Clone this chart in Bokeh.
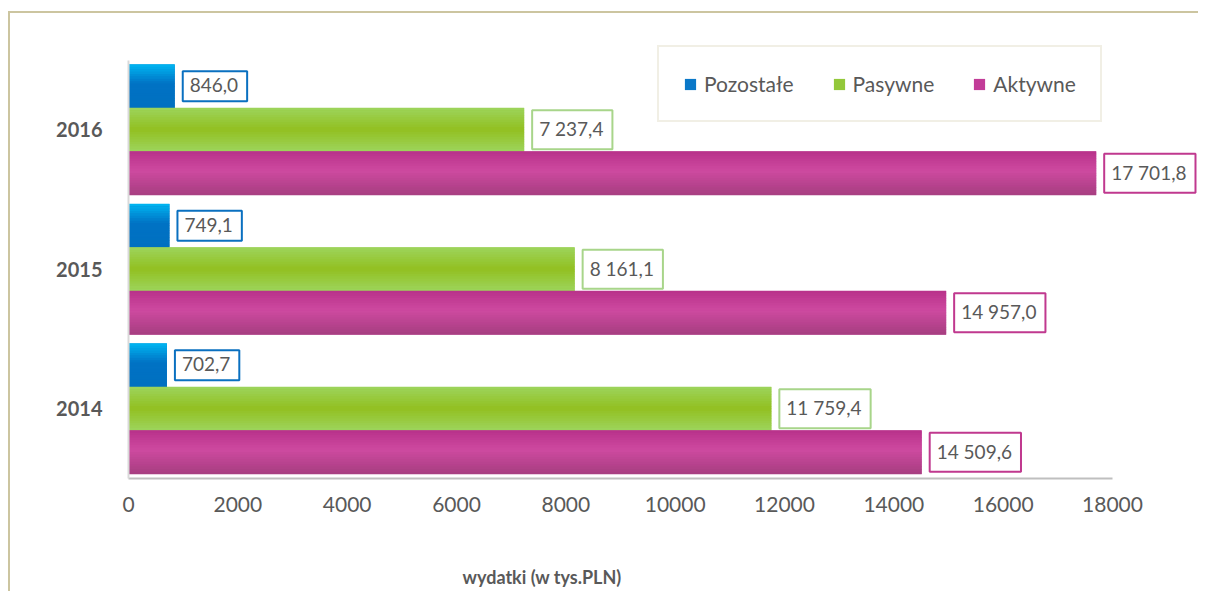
from bokeh.plotting import figure
from bokeh.models import (ColumnDataSource, FixedTicker, Legend, LegendItem, Label)
from bokeh.core.properties import value
from bokeh.embed import file_html
from bokeh.resources import INLINE

# ---- data ----
years = ["2014", "2015", "2016"]
series = ["Pozostałe", "Pasywne", "Aktywne"]
pozostale = [702.7, 749.1, 846.0]
pasywne = [11759.4, 8161.1, 7237.4]
aktywne = [14509.6, 14957.0, 17701.8]
x_ticks = [0, 2000, 4000, 6000, 8000, 10000, 12000, 14000, 16000, 18000]
X_MAX = 18000
x_title = "wydatki (w tys.PLN)"

# ---- style ----
FONT = "Lato"
TXT = "#595959"
BAR_H = 0.312
offsets = {"Pozostałe": BAR_H, "Pasywne": 0.0, "Aktywne": -BAR_H}
values_by = {"Pozostałe": pozostale, "Pasywne": pasywne, "Aktywne": aktywne}
solid = {"Pozostałe": "#0a78c8", "Pasywne": "#93c83a", "Aktywne": "#c23c98"}
border = {"Pozostałe": "#0a70c0", "Pasywne": "#a8d58a", "Aktywne": "#c0398f"}
stops = {
    "Pozostałe": [(0.0, (0, 182, 242)), (0.45, (0, 114, 196)), (1.0, (0, 112, 192))],
    "Pasywne": [(0.0, (157, 212, 92)), (0.5, (146, 192, 33)), (1.0, (157, 212, 92))],
    "Aktywne": [(0.0, (184, 49, 138)), (0.45, (206, 74, 160)), (1.0, (166, 62, 128))],
}


def interp(st, t):
    for (t0, c0), (t1, c1) in zip(st[:-1], st[1:]):
        if t0 <= t <= t1:
            f = (t - t0) / (t1 - t0) if t1 > t0 else 0
            c = [round(a + (b - a) * f) for a, b in zip(c0, c1)]
            return "#%02x%02x%02x" % tuple(c)
    c = st[-1][1]
    return "#%02x%02x%02x" % tuple(c)


def fmt(v):
    s = f"{v:,.1f}"
    return s.replace(",", " ").replace(".", ",")


# pixel geometry (canvas): value 0 at x=118 px, 18000 at 1102 px;
# category band 0..3 spans 418.5 px, ending 115 px above the canvas bottom
PX_X = 984 / X_MAX
PX_Y = 418.5 / 3
x_start = -118 / PX_X
x_end = (1190 - 118) / PX_X
y_start = -115 / PX_Y
y_end = 3 + (438 - 418.5) / PX_Y

p = figure(width=1190, height=580, x_range=(x_start, x_end), y_range=(y_start, y_end),
           output_backend="svg", toolbar_location=None,
           min_border_left=0, min_border_right=0, min_border_top=27,
           min_border_bottom=0)
p.styles = {"margin-top": "11px", "margin-left": "8px",
            "border-top": "2px solid #ccc5a0", "border-left": "2px solid #ccc5a0"}
p.outline_line_color = None
p.grid.visible = False
p.background_fill_color = "white"

centers = [i + 0.5 for i in range(len(years))]
K = 18
legend_items = []
for s in series:
    vals = values_by[s]
    ys = [c + offsets[s] for c in centers]
    base = p.hbar(y=ys, right=vals, left=0, height=BAR_H, fill_color=solid[s], line_color=None)
    legend_items.append(LegendItem(label=s, renderers=[base]))
    sy, sr, sh, sc = [], [], [], []
    for y, v in zip(ys, vals):
        for j in range(K):
            t0, t1 = j / K, (j + 1) / K
            sy.append(y + BAR_H / 2 - (t0 + t1) / 2 * BAR_H)
            sr.append(v)
            sh.append(BAR_H / K + 0.003)
            sc.append(interp(stops[s], (t0 + t1) / 2))
    src = ColumnDataSource(dict(y=sy, right=sr, height=sh, color=sc))
    p.hbar(y="y", right="right", left=0, height="height", fill_color="color",
           line_color=None, source=src)

for s in series:
    vals = values_by[s]
    ys = [c + offsets[s] for c in centers]
    src = ColumnDataSource(dict(x=vals, y=ys, t=[fmt(v) for v in vals]))
    p.text(x="x", y="y", text="t", source=src, x_offset=8, text_align="left",
           text_baseline="middle", text_font=value(FONT), text_font_size="19px",
           text_color=TXT, padding=[7, 9, 7, 9], background_fill_color="white",
           border_line_color=border[s], border_line_width=2)

# axes
p.xaxis.fixed_location = 0
p.xaxis.ticker = FixedTicker(ticks=x_ticks)
p.xaxis.bounds = (0, X_MAX)
p.xaxis.major_tick_line_color = None
p.xaxis.minor_tick_line_color = None
p.xaxis.axis_line_color = "#bfbfbf"
p.xaxis.axis_line_width = 2
p.xaxis.major_label_text_font = FONT
p.xaxis.major_label_text_font_size = "21px"
p.xaxis.major_label_text_color = TXT
p.xaxis.major_label_standoff = 12

p.yaxis.fixed_location = 0
p.yaxis.ticker = FixedTicker(ticks=centers)
p.yaxis.bounds = (0, len(years))
p.yaxis.major_label_overrides = {c: y for c, y in zip(centers, years)}
p.yaxis.major_tick_line_color = None
p.yaxis.minor_tick_line_color = None
p.yaxis.axis_line_color = "#d9d9d9"
p.yaxis.axis_line_width = 2
p.yaxis.major_label_text_font = FONT
p.yaxis.major_label_text_font_size = "20px"
p.yaxis.major_label_text_font_style = "bold"
p.yaxis.major_label_text_color = TXT
p.yaxis.major_label_standoff = 20

title = Label(text=x_title, x=334 / PX_X, y=-98 / PX_Y,
              text_align="left", text_baseline="middle",
              text_font=FONT, text_font_size="18px", text_font_style="bold",
              text_color=TXT)
p.add_layout(title)

legend = Legend(items=legend_items, orientation="horizontal", location=(647, 471),
                label_text_font=FONT, label_text_font_size="21px", label_text_color=TXT,
                glyph_width=14, glyph_height=14, label_standoff=7, spacing=38,
                label_height=22, padding=24, margin=0,
                border_line_color="#e3e0cc", border_line_width=2,
                background_fill_color="white")
p.add_layout(legend, "center")

open("out.html", "w").write(file_html(p, INLINE))
